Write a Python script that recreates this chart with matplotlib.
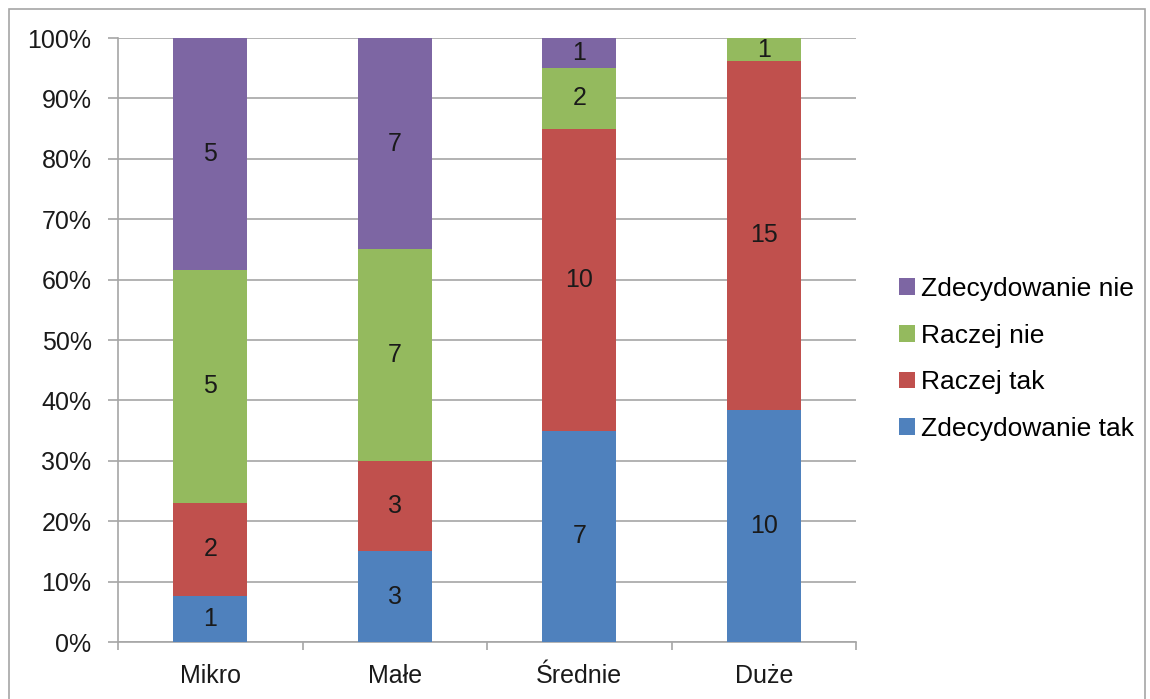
import numpy as np
import matplotlib.pyplot as plt
from matplotlib.patches import Rectangle

categories = ["Mikro", "Małe", "Średnie", "Duże"]
series = ["Zdecydowanie tak", "Raczej tak", "Raczej nie", "Zdecydowanie nie"]
zdecydowanie_tak = [1, 3, 7, 10]
raczej_tak = [2, 3, 10, 15]
raczej_nie = [5, 7, 2, 1]
zdecydowanie_nie = [5, 7, 1, 0]
colors = ["#4F81BD", "#C0504D", "#94BA5E", "#7D66A3"]

plt.rcParams["font.family"] = ["Liberation Sans", "DejaVu Sans"]

counts = np.array([zdecydowanie_tak, raczej_tak, raczej_nie, zdecydowanie_nie], dtype=float)
totals = counts.sum(axis=0)
shares = counts / totals * 100

fig = plt.figure(figsize=(11.5, 6.99), dpi=100)
fig.patches.append(Rectangle((9 / 1150, -0.01), 1136 / 1150, 1 - 9 / 699 + 0.01,
                             transform=fig.transFigure, fill=False,
                             edgecolor="#A6A6A6", linewidth=1.2))
ax = fig.add_axes([118 / 1150, 1 - 642 / 699, 738 / 1150, 604 / 699])

x = np.arange(len(categories))
bottom = np.zeros(len(categories))
handles = []
for i, name in enumerate(series):
    bars = ax.bar(x, shares[i], bottom=bottom, width=0.4, color=colors[i],
                  label=name, zorder=3)
    handles.append(bars)
    for j in range(len(categories)):
        if counts[i, j] > 0:
            ax.text(x[j], bottom[j] + shares[i, j] / 2, f"{int(counts[i, j])}",
                    ha="center", va="center", fontsize=18, color="#1A1A1A", zorder=4)
    bottom += shares[i]

ax.set_xlim(-0.5, len(categories) - 0.5)
ax.set_ylim(0, 100)
ax.set_yticks(np.arange(0, 101, 10))
ax.set_yticklabels([f"{v}%" for v in range(0, 101, 10)])
ax.yaxis.grid(True, color="#A6A6A6", linewidth=1.2, zorder=0)
ax.set_xticks(x)
ax.set_xticklabels(categories)
ax.set_xticks(np.arange(-0.5, len(categories)), minor=True)
ax.tick_params(axis="x", which="major", length=0, pad=16, labelsize=18, colors="#1A1A1A")
ax.tick_params(axis="x", which="minor", length=6, width=1.2, color="#A6A6A6")
ax.tick_params(axis="y", length=7, width=1.2, color="#A6A6A6", labelsize=18,
               labelcolor="#1A1A1A", pad=12)
for side in ["top", "right"]:
    ax.spines[side].set_visible(False)
for side in ["left", "bottom"]:
    ax.spines[side].set_color("#A6A6A6")
    ax.spines[side].set_linewidth(1.2)

leg = fig.legend(handles[::-1], series[::-1], loc="center left",
                 bbox_to_anchor=(899 / 1150, 1 - 359 / 699), frameon=False,
                 fontsize=19, handlelength=0.6, handleheight=0.6,
                 handletextpad=0.25, labelspacing=0.86, borderpad=0, borderaxespad=0)

fig.savefig("out.png", dpi=100)
